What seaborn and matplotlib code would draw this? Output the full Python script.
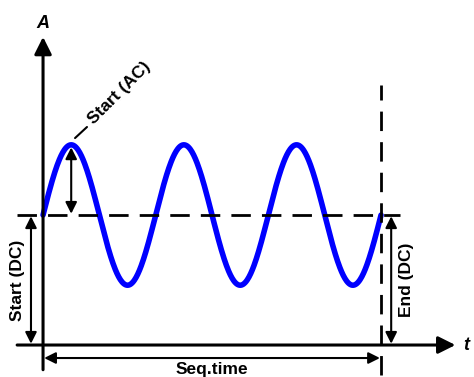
import numpy as np
import pandas as pd
import seaborn as sns
import matplotlib.pyplot as plt

# waveform parameters (arbitrary units)
start_dc = 1.0      # DC offset at start
end_dc = 1.0        # DC offset at end
start_ac = 0.54     # AC amplitude
cycles = 3          # full periods within the sequence
seq_time = 3.0      # sequence duration

sns.set_style('white')
plt.rcParams['font.family'] = ['Liberation Sans', 'DejaVu Sans']
plt.rcParams['text.color'] = 'black'

t = np.linspace(0, seq_time, 600)
wave = pd.DataFrame({'t': t, 'A': start_dc + start_ac * np.sin(2 * np.pi * cycles * t / seq_time)})

fig = plt.figure(figsize=(4.74, 3.77), dpi=100)
ax = fig.add_axes([0, 0, 1, 1])

sns.lineplot(data=wave, x='t', y='A', color='#0000ff', lw=4, ax=ax)

# axes with arrow heads
ax_arrow = dict(arrowstyle='-|>', lw=2.2, color='black', mutation_scale=26, shrinkA=0, shrinkB=0)
ax.annotate('', xy=(0, 2.37), xytext=(0, -0.19), arrowprops=ax_arrow)
ax.annotate('', xy=(3.66, 0), xytext=(-0.23, 0), arrowprops=ax_arrow)
ax.text(0, 2.47, 'A', ha='center', va='center', fontsize=13, fontweight='bold', fontstyle='italic')
ax.text(3.76, 0, 't', ha='center', va='center', fontsize=13, fontweight='bold', fontstyle='italic')

# dashed reference lines
ax.plot([-0.23, 3.17], [start_dc, end_dc], color='black', lw=2, ls=(0, (7, 4)))
ax.plot([seq_time, seq_time], [-0.23, 2.0], color='black', lw=2, ls=(0, (7, 4)))

# dimension arrows
dim = dict(arrowstyle='<|-|>', lw=1.5, color='black', mutation_scale=17, shrinkA=0, shrinkB=0)
peak_t = seq_time / cycles / 4
ax.annotate('', xy=(peak_t, start_dc + start_ac - 0.02), xytext=(peak_t, start_dc + 0.01), arrowprops=dim)
ax.annotate('', xy=(-0.107, start_dc - 0.01), xytext=(-0.107, 0.01), arrowprops=dim)
ax.annotate('', xy=(seq_time + 0.09, end_dc - 0.01), xytext=(seq_time + 0.09, 0.01), arrowprops=dim)
ax.annotate('', xy=(0.01, -0.1), xytext=(seq_time - 0.01, -0.1), arrowprops=dim)

txt = dict(fontsize=12.5, fontweight='bold', ha='center', va='center', color='black')
ax.text(-0.23, start_dc / 2, 'Start (DC)', rotation=90, **txt)
ax.text(seq_time + 0.23, end_dc / 2, 'End (DC)', rotation=90, **txt)
ax.text(seq_time / 2, -0.185, 'Seq.time', **txt)
ax.plot([0.284, 0.39], [1.592, 1.677], color='black', lw=1.5)
ax.text(0.675, 1.94, 'Start (AC)', rotation=45, rotation_mode='anchor', **txt)

ax.set_xlim(-0.382, 3.825)
ax.set_ylim(-0.246, 2.654)
ax.axis('off')

fig.savefig('out.png', dpi=100)
